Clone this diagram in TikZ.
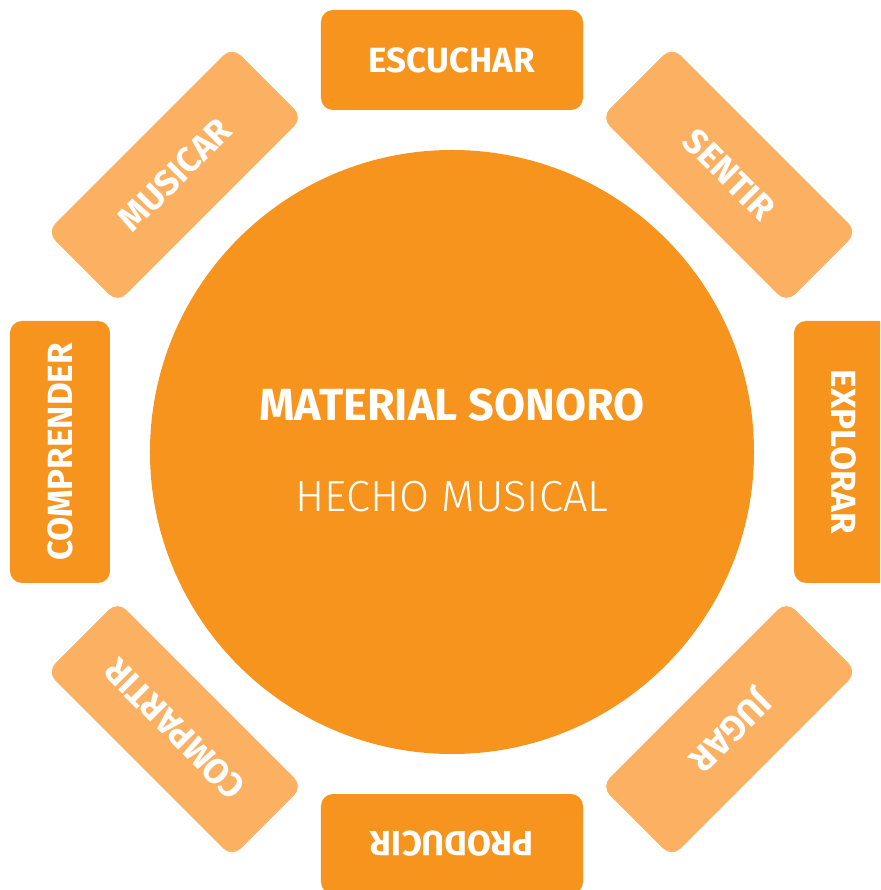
\documentclass[tikz,border=0pt]{standalone}
\usepackage{fontspec}
\setmainfont{Fira Sans}
\newfontfamily\finafont{Fira Sans Light}
\definecolor{naranja}{HTML}{F7941D}
\definecolor{naranjaclaro}{HTML}{FBB161}
\begin{document}
\begin{tikzpicture}[x=1pt, y=1pt,
  accion/.style = {shape=rectangle, rounded corners=12pt,
    minimum width=262pt, minimum height=100pt, inner sep=0pt,
    text=white, font=\fontsize{35}{38}\selectfont\bfseries}]
  \useasboundingbox (-452,-438) rectangle (428,452);
  \clip (-452,-438) rectangle (428,452);
  \node[circle, fill=naranja, minimum size=604pt, inner sep=0pt] (centro) at (0,0) {};
  \node[text=white, font=\fontsize{45}{48}\selectfont\bfseries] (material) at (0,47) {MATERIAL SONORO};
  \node[text=white, font=\fontsize{43.5}{46}\selectfont\finafont] (hecho) at (0,-45) {HECHO MUSICAL};
  \foreach \ang/\txt/\col in {90/ESCUCHAR/naranja, 45/SENTIR/naranjaclaro,
      0/EXPLORAR/naranja, -45/JUGAR/naranjaclaro, -90/PRODUCIR/naranja,
      -135/COMPARTIR/naranjaclaro, 180/COMPRENDER/naranja, 135/MUSICAR/naranjaclaro}
    \node[accion, fill=\col, rotate=\ang-90] (\txt) at (\ang:392) {\txt};
\end{tikzpicture}
\end{document}
